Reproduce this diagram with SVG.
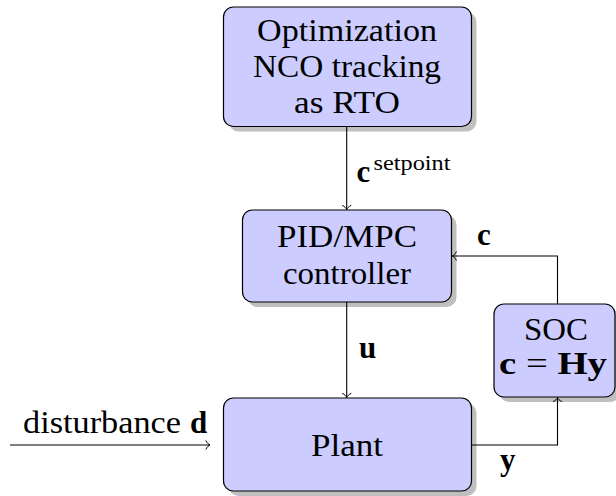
<svg xmlns="http://www.w3.org/2000/svg" width="616" height="496" viewBox="0 0 616 496">
  <style>
    .box { fill: #ccccff; stroke: #000; stroke-width: 1.2; }
    .shadow { fill: #bfbfbf; stroke: none; }
    text { font-family: 'Liberation Serif', 'Times New Roman', serif; font-size: 31px; fill: #000; }
    .mid { text-anchor: middle; }
    .b { font-weight: bold; }
    .sup { font-size: 21px; }
    .conn { fill: none; stroke: #000; stroke-width: 1.1; }
  </style>
  <defs>
    <marker id="to" markerUnits="userSpaceOnUse" markerWidth="12" markerHeight="12" viewBox="-6 -6 12 12" refX="0" refY="0" orient="auto">
      <path d="M -4 -4.2 C -3 -1.8 -1.2 -0.5 0 0 C -1.2 0.5 -3 1.8 -4 4.2" fill="none" stroke="#000" stroke-width="1" stroke-linecap="round"/>
    </marker>
  </defs>

  <g id="node-rto">
    <rect class="shadow" x="228.5" y="12" width="248" height="119.5" rx="10"/>
    <rect class="box" x="223.5" y="7" width="248" height="119.5" rx="10"/>
    <text class="mid" x="347" y="41" textLength="180" lengthAdjust="spacingAndGlyphs">Optimization</text>
    <text class="mid" x="347" y="77" textLength="188" lengthAdjust="spacingAndGlyphs">NCO tracking</text>
    <text class="mid" x="347" y="113" textLength="106" lengthAdjust="spacingAndGlyphs">as RTO</text>
  </g>

  <g id="node-controller">
    <rect class="shadow" x="247.5" y="215" width="209" height="92" rx="10"/>
    <rect class="box" x="242.5" y="210" width="209" height="92" rx="10"/>
    <text class="mid" x="347" y="247" textLength="140" lengthAdjust="spacingAndGlyphs">PID/MPC</text>
    <text class="mid" x="347" y="284" textLength="128" lengthAdjust="spacingAndGlyphs">controller</text>
  </g>

  <g id="node-plant">
    <rect class="shadow" x="228.5" y="403" width="248" height="93" rx="10"/>
    <rect class="box" x="223.5" y="398" width="248" height="93" rx="10"/>
    <text class="mid" x="347" y="456" textLength="72" lengthAdjust="spacingAndGlyphs">Plant</text>
  </g>

  <g id="node-soc">
    <rect class="shadow" x="499" y="309" width="121" height="93" rx="10"/>
    <rect class="box" x="494" y="304" width="121" height="93" rx="10"/>
    <text class="mid" x="556" y="340" textLength="64" lengthAdjust="spacingAndGlyphs">SOC</text>
    <text class="mid" x="553" y="374" textLength="108" lengthAdjust="spacingAndGlyphs"><tspan class="b">c</tspan> = <tspan class="b">Hy</tspan></text>
  </g>

  <g id="connectors">
    <path class="conn" d="M 346.7 126.5 L 346.7 209.5" marker-end="url(#to)"/>
    <path class="conn" d="M 346.7 302 L 346.7 397.5" marker-end="url(#to)"/>
    <path class="conn" d="M 557.5 304 L 557.5 256 L 452.3 256" marker-end="url(#to)"/>
    <path class="conn" d="M 471.5 445 L 557.5 445 L 557.5 397.5" marker-end="url(#to)"/>
    <path class="conn" d="M 10 445 L 210 445" marker-end="url(#to)"/>
  </g>

  <g id="labels">
    <text class="b" x="356.5" y="182">c</text>
    <text class="sup" x="373.5" y="169.5" textLength="77" lengthAdjust="spacingAndGlyphs">setpoint</text>
    <text class="b" x="477" y="245">c</text>
    <text class="b" x="359" y="358">u</text>
    <text class="b" x="500" y="470">y</text>
    <text x="23" y="433" textLength="158" lengthAdjust="spacingAndGlyphs">disturbance</text>
    <text class="b" x="190" y="433">d</text>
  </g>
</svg>
